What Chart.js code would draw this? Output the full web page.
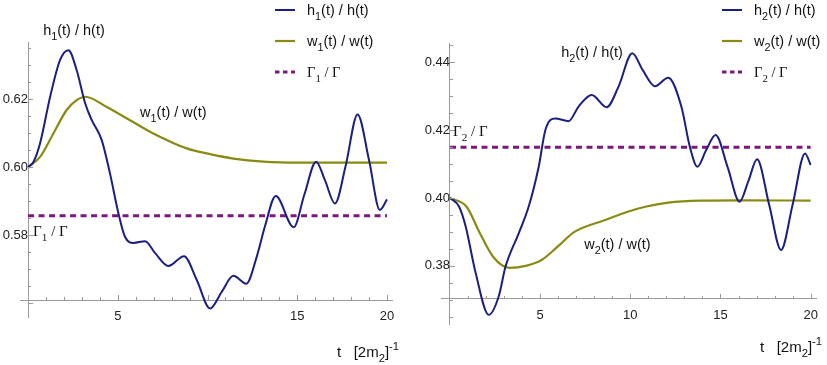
<!DOCTYPE html>
<html>
<head>
<meta charset="utf-8">
<script src="https://cdn.jsdelivr.net/npm/chart.js@4.4.1/dist/chart.umd.min.js"></script>
<style>
  html, body { margin: 0; padding: 0; background: #fff; }
  #wrap { position: relative; width: 827px; height: 365px; }
  canvas { position: absolute; top: 0; }
  #left { left: 0; }
  #right { left: 414px; }
</style>
</head>
<body>
<div id="wrap">
  <canvas id="left" width="414" height="365"></canvas>
  <canvas id="right" width="413" height="365"></canvas>
</div>
<script>
// time in units of [2m2]^-1
const tH1 = [0, 0.3, 0.67, 1.23, 1.78, 2.25, 2.71, 3.18, 3.55, 4.1, 4.57, 5.03, 5.4, 5.87, 6.52, 7.08, 7.82, 8.69, 9.4, 10.14, 10.79, 11.44, 12.16, 12.74, 13.2, 13.8, 14.8, 15.4, 16.05, 16.55, 17.1, 17.7, 18.36, 19.0, 19.6, 20];
const h1 = [0.600, 0.6015, 0.607, 0.6207, 0.6315, 0.6344, 0.6285, 0.6188, 0.6138, 0.608, 0.598, 0.5865, 0.5795, 0.5777, 0.5782, 0.5747, 0.5709, 0.5738, 0.5668, 0.5584, 0.5633, 0.568, 0.5657, 0.5736, 0.5826, 0.5915, 0.5823, 0.592, 0.6016, 0.596, 0.5893, 0.6005, 0.6155, 0.602, 0.5874, 0.5905];
const tW1 = [0, 0.67, 1.41, 2.15, 2.71, 3.2, 4.38, 5.68, 6.98, 8.84, 10.14, 11.44, 13.1, 15.15, 17.5, 20];
const w1 = [0.600, 0.603, 0.6099, 0.6168, 0.6197, 0.6207, 0.6177, 0.6138, 0.6099, 0.6055, 0.6038, 0.6025, 0.6016, 0.6013, 0.6013, 0.6013];
const gamma1 = 0.5857;

const tH2 = [0, 0.5, 0.87, 1.42, 2.15, 2.7, 3.08, 3.81, 4.36, 4.92, 5.29, 5.84, 6.58, 7.13, 7.86, 8.69, 9.34, 10.11, 10.69, 11.36, 12.1, 12.83, 13.3, 13.72, 14.2, 14.73, 15.4, 16.06, 16.55, 17.03, 17.7, 18.36, 19.0, 19.69, 20];
const h2 = [0.400, 0.3975, 0.3916, 0.378, 0.3656, 0.371, 0.3798, 0.3896, 0.3974, 0.4092, 0.42, 0.4234, 0.4226, 0.4269, 0.4303, 0.4267, 0.4327, 0.4426, 0.4376, 0.4329, 0.4354, 0.4269, 0.4151, 0.4092, 0.414, 0.4185, 0.409, 0.3989, 0.405, 0.4114, 0.398, 0.3847, 0.398, 0.4131, 0.4097];
const tW2 = [0, 0.92, 1.66, 2.39, 3.3, 4.2, 5.1, 6.0, 6.9, 8.6, 9.9, 10.83, 12.1, 13.94, 16, 20];
const w2 = [0.400, 0.3974, 0.3896, 0.3827, 0.3794, 0.3800, 0.3818, 0.3858, 0.390, 0.3935, 0.396, 0.3974, 0.3986, 0.3992, 0.3993, 0.3992];
const gamma2 = 0.4149;

const xTicksLeft = [5, 15, 20];
const xTicksRight = [5, 10, 15, 20];
const yTicksLeft = [0.58, 0.60, 0.62];
const yTicksRight = [0.38, 0.40, 0.42, 0.44];

const BLUE = '#1a1f80';
const OLIVE = '#8a8a12';
const PURPLE = '#7d167d';
const AXIS = '#9a9a9a';
const SANS = '"Liberation Sans", Arial, sans-serif';
const SERIF = '"Liberation Serif", "Times New Roman", serif';

const pts = (ts, vs) => ts.map((t, i) => ({ x: t, y: vs[i] }));

// draw text with "_sub" and "^sup" pieces
function rich(ctx, parts, x, y, size, family) {
  let cx = x;
  ctx.textAlign = 'left';
  ctx.textBaseline = 'alphabetic';
  ctx.fillStyle = '#111';
  for (const p of parts) {
    let txt = p, dy = 0, fs = size;
    if (p[0] === '_') { txt = p.slice(1); dy = size * 0.32; fs = size * 0.75; }
    else if (p[0] === '^') { txt = p.slice(1); dy = -size * 0.5; fs = size * 0.75; }
    ctx.font = fs + 'px ' + family;
    ctx.fillText(txt, cx, y + dy);
    cx += ctx.measureText(txt).width;
  }
}

const decor = {
  id: 'decor',
  afterDraw(chart, args, o) {
    const { ctx } = chart;
    const xs = chart.scales.x, ys = chart.scales.y;
    const x0 = xs.getPixelForValue(0);
    const yA = ys.getPixelForValue(o.cross);
    ctx.save();
    // tick marks
    ctx.strokeStyle = AXIS;
    ctx.lineWidth = 1;
    ctx.beginPath();
    for (let k = 1; k <= 20; k++) {
      const px = Math.round(xs.getPixelForValue(k)) + 0.5;
      const len = k % 5 === 0 ? 5 : 3;
      ctx.moveTo(px, yA); ctx.lineTo(px, yA - len);
    }
    for (let k = Math.ceil(ys.min / 0.005); k <= Math.floor(ys.max / 0.005); k++) {
      const py = Math.round(ys.getPixelForValue(k * 0.005)) + 0.5;
      const len = k % 4 === 0 ? 5 : 3;
      ctx.moveTo(x0, py); ctx.lineTo(x0 + len, py);
    }
    ctx.stroke();
    // curve labels
    for (const n of o.notes) {
      rich(ctx, n.parts, xs.getPixelForValue(n.t), ys.getPixelForValue(n.v), n.size, n.font);
    }
    // legend
    chart.data.datasets.forEach((ds, i) => {
      const ly = o.legend.y + i * o.legend.gap;
      ctx.strokeStyle = ds.borderColor;
      ctx.lineWidth = ds.borderWidth;
      ctx.setLineDash(ds.legendDash || []);
      ctx.beginPath();
      ctx.moveTo(o.legend.x, ly); ctx.lineTo(o.legend.x + 20, ly);
      ctx.stroke();
      ctx.setLineDash([]);
      rich(ctx, ds.legendParts, o.legend.x + 32, ly + 5, 14.5, ds.legendFont);
    });
    // axis title
    rich(ctx, ['t   [2m', '_2', ']', '^-1'], o.title.x, o.title.y, 15, SANS);
    ctx.restore();
  }
};

function makeChart(id, d) {
  return new Chart(document.getElementById(id), {
    type: 'line',
    data: {
      datasets: [
        { label: 'h/h', data: pts(d.tH, d.h), borderColor: BLUE, borderWidth: 2,
          legendParts: ['h', '_' + d.n, '(t) / h(t)'], legendFont: SANS },
        { label: 'w/w', data: pts(d.tW, d.w), borderColor: OLIVE, borderWidth: 2.2,
          legendParts: ['w', '_' + d.n, '(t) / w(t)'], legendFont: SANS },
        { label: 'G/G', data: pts([0, 20], [d.g, d.g]), borderColor: PURPLE, borderWidth: 3,
          borderDash: [6, 4.5], legendDash: [4.5, 3.5],
          legendParts: ['Γ', '_' + d.n, ' / Γ'], legendFont: SERIF }
      ]
    },
    options: {
      responsive: false,
      animation: false,
      layout: { padding: d.pad },
      elements: { point: { radius: 0 }, line: { cubicInterpolationMode: 'monotone', fill: false } },
      plugins: {
        legend: { display: false },
        tooltip: { enabled: false },
        decor: { cross: d.cross, notes: d.notes, legend: d.legend, title: d.title }
      },
      scales: {
        x: {
          type: 'linear', min: d.xMin, max: d.xMax,
          position: { y: d.cross },
          afterFit: s => { s.height = 0; },
          afterBuildTicks: s => { s.ticks = d.xTicks.map(v => ({ value: v })); },
          grid: { display: false, drawTicks: false },
          border: { display: true, color: AXIS, width: 1 },
          ticks: { autoSkip: false, maxRotation: 0, padding: 9, color: '#222',
                   font: { family: SANS, size: 13 } }
        },
        y: {
          type: 'linear', min: d.yMin, max: d.yMax,
          position: { x: 0 },
          afterFit: s => { s.width = 0; },
          afterBuildTicks: s => { s.ticks = d.yTicks.map(v => ({ value: v })); },
          grid: { display: false, drawTicks: false },
          border: { display: true, color: AXIS, width: 1 },
          ticks: { padding: 4, color: '#222', font: { family: SANS, size: 13 },
                   callback: v => v.toFixed(2) }
        }
      }
    },
    plugins: [decor]
  });
}

makeChart('left', {
  n: '1', tH: tH1, h: h1, tW: tW1, w: w1, g: gamma1,
  xMin: -0.41, xMax: 20.3, yMin: 0.5559, yMax: 0.6368, cross: 0.5609,
  xTicks: xTicksLeft, yTicks: yTicksLeft,
  pad: { left: 20.7, right: 21.6, top: 42, bottom: 48 },
  notes: [
    { parts: ['h', '_1', '(t) / h(t)'], t: 0.84, v: 0.6388, size: 14.5, font: SANS },
    { parts: ['w', '_1', '(t) / w(t)'], t: 6.24, v: 0.6147, size: 14.5, font: SANS },
    { parts: ['Γ', '_1', ' / Γ'], t: 0.28, v: 0.5797, size: 15, font: SERIF }
  ],
  legend: { x: 275, y: 10, gap: 31 },
  title: { x: 337, y: 357 }
});

makeChart('right', {
  n: '2', tH: tH2, h: h2, tW: tW2, w: w2, g: gamma2,
  xMin: -0.46, xMax: 20.3, yMin: 0.3629, yMax: 0.4456, cross: 0.3703,
  xTicks: xTicksRight, yTicks: yTicksRight,
  pad: { left: 27.7, right: 9, top: 43, bottom: 41 },
  notes: [
    { parts: ['h', '_2', '(t) / h(t)'], t: 6.17, v: 0.4415, size: 14.5, font: SANS },
    { parts: ['Γ', '_2', ' / Γ'], t: 0.17, v: 0.4182, size: 15, font: SERIF },
    { parts: ['w', '_2', '(t) / w(t)'], t: 7.44, v: 0.385, size: 14.5, font: SANS }
  ],
  legend: { x: 308, y: 10, gap: 31 },
  title: { x: 346, y: 352 }
});
</script>
</body>
</html>
